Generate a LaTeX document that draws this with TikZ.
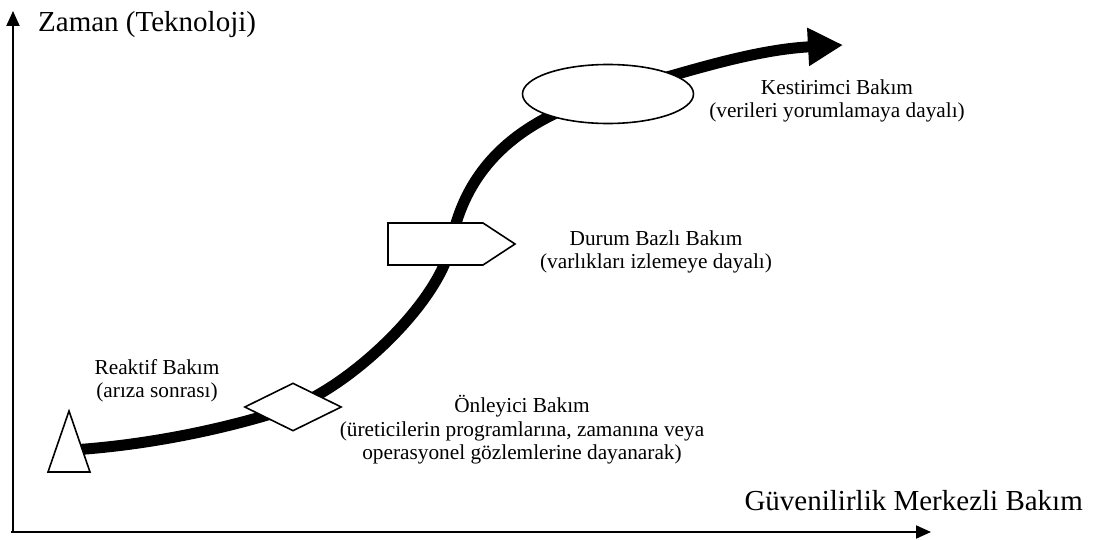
\documentclass[tikz,border=0pt]{standalone}
\usepackage{fontspec}
\setmainfont{Liberation Serif}
\usetikzlibrary{arrows.meta,shapes.geometric,backgrounds}
\begin{document}
\begin{tikzpicture}[x=1pt,y=-1pt,
 shapeline/.style={draw=black, line width=1.6pt, fill=white, line join=miter},
 axisline/.style={line width=2pt, -{Triangle[length=15pt,width=13pt]}},
 bigtxt/.style={font=\fontsize{29}{34}\selectfont, inner sep=0},
 smalltxt/.style={font=\fontsize{21.3}{23.5}\selectfont, align=center, inner sep=0},
 evolution/.style={line width=11pt, -{Triangle[length=35pt,width=36pt]}},
]
\useasboundingbox (0,0) rectangle (1094,540);
\coordinate (origin) at (13,532);
\coordinate (ytop) at (13,11);
\coordinate (xstart) at (11,532);
\coordinate (xend) at (931,532);
\draw[axisline] (origin) -- (ytop);
\draw[axisline] (xstart) -- (xend);

\coordinate (tri) at (69,450);
\draw[shapeline] ([shift={(0,-39)}]tri) -- ([shift={(21,22)}]tri) -- ([shift={(-21,22)}]tri) -- cycle;
\node[diamond, shapeline, minimum width=97pt, minimum height=48pt, inner sep=0] (dia) at (293,407) {};
\coordinate (pent) at (451,244);
\draw[shapeline] ([shift={(-63,-21)}]pent) -- ([shift={(32,-21)}]pent) -- ([shift={(64,0)}]pent) -- ([shift={(32,21)}]pent) -- ([shift={(-63,21)}]pent) -- cycle;
\node[ellipse, shapeline, minimum width=171pt, minimum height=59pt, inner sep=0] (ell) at (608,94) {};
\coordinate (tip) at (843,45);

\begin{pgfonlayer}{background}
\draw[evolution] ([xshift=3pt]tri) .. controls (150,445) and (230,428) .. (dia.center)
  .. controls (356,382) and (440,300) .. (pent)
  .. controls (465,170) and (515,120) .. (ell.center)
  .. controls (680,74) and (750,50) .. (tip);
\end{pgfonlayer}

\node[bigtxt, anchor=base west] (ylabel) at (38,32) {Zaman (Teknoloji)};
\node[bigtxt, anchor=base east] (xlabel) at (1083,510) {Güvenilirlik Merkezli Bakım};
\node[smalltxt] (reaktif) at (157,381) {Reaktif Bakım\\(arıza sonrası)};
\node[smalltxt] (onleyici) at (522,430) {Önleyici Bakım\\(üreticilerin programlarına, zamanına veya\\operasyonel gözlemlerine dayanarak)};
\node[smalltxt] (durum) at (656,252) {Durum Bazlı Bakım\\(varlıkları izlemeye dayalı)};
\node[smalltxt] (kestirim) at (837,101) {Kestirimci Bakım\\(verileri yorumlamaya dayalı)};
\end{tikzpicture}
\end{document}
